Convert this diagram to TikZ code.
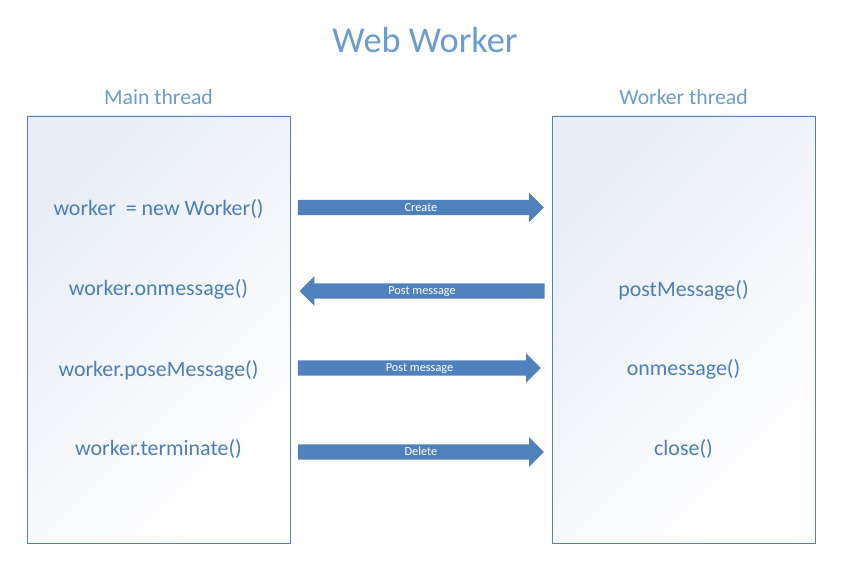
\documentclass[tikz,border=0pt]{standalone}
\usepackage{fontspec}
\setmainfont{Carlito}
\usetikzlibrary{shapes.arrows, positioning}
\usepackage{xcolor}
\definecolor{wwblue}{HTML}{4F81BD}
\definecolor{wwtitle}{HTML}{6A9BD3}
\definecolor{wwtext}{HTML}{4A7EBB}
\definecolor{wwshade}{HTML}{E8EDF6}
\tikzset{
    threadbox/.style = {rectangle, draw=wwblue, line width=0.8pt, minimum width=7.89cm, minimum height=12.81cm, left color=wwshade, right color=white, shading angle=45},
    heading/.style = {anchor=base, text=wwtitle, font=\fontsize{18.5}{22}\selectfont},
    call/.style = {anchor=base, text=wwtext, font=\fontsize{18.7}{22}\selectfont},
    msgarrow/.style = {single arrow, fill=wwblue, text=white, font=\fontsize{10.5}{12}\selectfont, minimum height=7.38cm, text height=0.33cm, text depth=0.12cm, inner ysep=0pt, single arrow head extend=0.21cm, single arrow tip angle=90}
}

\begin{document}
\begin{tikzpicture}[x=0.03cm, y=-0.03cm]
\useasboundingbox (0,0) rectangle (851,574);

% title and thread boxes
\node (title) [anchor=base, text=wwtitle, font=\fontsize{31}{36}\selectfont] at (425,52) {Web Worker};
\node (mainbox) [threadbox] at (158.5,329.5) {};
\node (workerbox) [threadbox] at (683.5,329.5) {};
\node (mainhead) [heading] at (158.5,104) {Main thread};
\node (workerhead) [heading] at (683.5,104) {Worker thread};

% main thread calls
\node (newworker) [call] at (158.5,215) {worker\ \ = new Worker()};
\node (mainonmsg) [call] at (158.5,295) {worker.onmessage()};
\node (mainpost) [call] at (158.5,376) {worker.poseMessage()};
\node (terminate) [call] at (158.5,455) {worker.terminate()};

% worker thread calls
\node (workerpost) [call] at (683.5,296) {postMessage()};
\node (workeronmsg) [call] at (683.5,375) {onmessage()};
\node (close) [call] at (683.5,455) {close()};

% messages
\node (create) [msgarrow] at (417,207.5) {\hspace*{0.24cm}Create};
\node (postback) [msgarrow, shape border rotate=180, minimum height=7.35cm] at (426,291) {Post message\hspace*{0.24cm}};
\node (postfwd) [msgarrow, minimum height=7.29cm] at (415.5,368) {\hspace*{0.24cm}Post message};
\node (delete) [msgarrow] at (417,452) {\hspace*{0.24cm}Delete};
\end{tikzpicture}
\end{document}
